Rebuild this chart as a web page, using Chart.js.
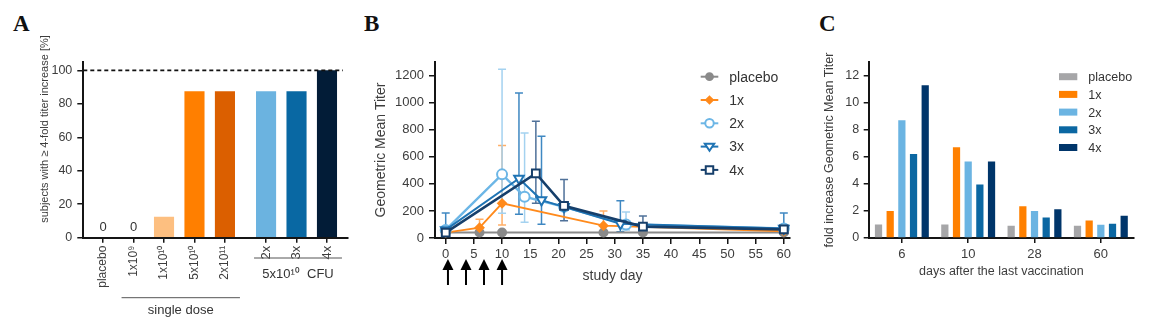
<!DOCTYPE html>
<html>
<head>
<meta charset="utf-8">
<script src="https://cdn.jsdelivr.net/npm/chart.js@4.4.1/dist/chart.umd.min.js"></script>
<style>
    body { margin: 0; background: #fff; width: 1149px; height: 325px; position: relative; overflow: hidden; }
    .panel { position: absolute; top: 0; height: 325px; }
    .letter { position: absolute; top: 12px; font: bold 23px/23px 'Liberation Serif', 'Times New Roman', serif; color: #111; }
</style>
</head>
<body>
<div class="letter" style="left:13px">A</div>
<div class="letter" style="left:364px">B</div>
<div class="letter" style="left:819px">C</div>
<div class="panel" style="left:0;width:360px"><canvas id="chart-a"></canvas></div>
<div class="panel" style="left:360px;width:440px"><canvas id="chart-b"></canvas></div>
<div class="panel" style="left:800px;width:349px"><canvas id="chart-c"></canvas></div>
<script>
// ---- panel A: share of subjects with >= 4-fold titer increase
const aLabels = ["placebo", "1x10⁹", "1x10¹⁰", "5x10¹⁰", "2x10¹¹", "2x", "3x", "4x"];
const aValues = [0, 0, 12.5, 87.5, 87.5, 87.5, 87.5, 100];
const aColors = ["#bbbbbb", "#bbbbbb", "#fdbf80", "#ff7f00", "#db5f00", "#6bb3e0", "#0968a3", "#021c37"];
const aTicksY = [0, 20, 40, 60, 80, 100];
const aReference = 100;
const aTitle = "subjects with ≥ 4-fold titer increase [%]";
const aGroupLabels = ["single dose", "5x10¹⁰  CFU"];
const aGroupFrom = [1, 5];
const aGroupTo = [4, 7];

// ---- panel B: geometric mean titer over study days
const bSeries = ["placebo", "1x", "2x", "3x", "4x"];
const bTicksX = [0, 5, 10, 15, 20, 25, 30, 35, 40, 45, 50, 55, 60];
const bTicksY = [0, 200, 400, 600, 800, 1000, 1200];
const vaccinationDays = [0.4, 3.6, 6.8, 10];

const placeboDays = [0, 6, 10, 28, 35, 60];
const placeboGmt = [40, 40, 40, 40, 40, 40];
const placeboHigh = [null, null, null, null, null, null];
const placeboLow = [null, null, null, null, null, null];

const oneDays = [0, 6, 10, 28, 60];
const oneGmt = [40, 76, 256, 91, 50];
const oneHigh = [null, 138, 684, 200, null];
const oneLow = [null, null, 96, null, null];

const twoDays = [0, 10, 14, 21, 32, 60];
const twoGmt = [60, 470, 305, 230, 100, 70];
const twoHigh = [null, 1246, 776, null, 192, null];
const twoLow = [null, 182, 116, null, 60, null];

const threeDays = [0, 13, 17, 21, 31, 60];
const threeGmt = [60, 440, 280, 230, 105, 70];
const threeHigh = [184, 1071, 752, null, 275, 185];
const threeLow = [null, 175, 101, null, 46, null];

const fourDays = [0, 16, 21, 35, 60];
const fourGmt = [40, 477, 238, 84, 64];
const fourHigh = [null, 863, 433, 162, null];
const fourLow = [null, 256, 128, null, null];

// ---- panel C: fold increase of GMT by days after the last vaccination
const cDays = ["6", "10", "28", "60"];
const cPlacebo = [1.0, 1.0, 0.9, 0.9];
const cOne = [2.0, 6.7, 2.35, 1.3];
const cTwo = [8.7, 5.65, 2.0, 0.97];
const cThree = [6.2, 3.95, 1.52, 1.05];
const cFour = [11.28, 5.65, 2.12, 1.65];
const cTicksY = [0, 2, 4, 6, 8, 10, 12];

Chart.defaults.font.family = "'Liberation Sans', Arial, sans-serif";
Chart.defaults.color = "#3d3d3d";
Chart.defaults.animation = false;
Chart.defaults.plugins.legend.display = false;
Chart.defaults.plugins.tooltip.enabled = false;

const AXIS = "#151515";

function axisBorder() {
    return { display: true, color: AXIS, width: 2 };
}
function tickGrid(len) {
    return { display: true, drawOnChartArea: false, drawTicks: true, tickLength: len, color: AXIS, lineWidth: 1.5, offset: false };
}

// ================= A =================
const aX = aLabels.map((label, i) => i < 5 ? i : i + 0.35);

const panelAExtras = {
    id: "panelAExtras",
    afterDatasetsDraw(chart) {
        const { ctx, chartArea, scales: { x, y } } = chart;
        ctx.save();
        // reference line
        ctx.strokeStyle = "#111";
        ctx.lineWidth = 1.6;
        ctx.setLineDash([4, 3]);
        const ry = y.getPixelForValue(aReference);
        ctx.beginPath();
        ctx.moveTo(chartArea.left, ry);
        ctx.lineTo(chartArea.right - 5, ry);
        ctx.stroke();
        ctx.setLineDash([]);

        // zero labels
        ctx.fillStyle = "#333";
        ctx.font = "13px 'Liberation Sans', Arial, sans-serif";
        ctx.textAlign = "center";
        ctx.textBaseline = "middle";
        aValues.forEach((v, i) => {
            if (v === 0) ctx.fillText("0", x.getPixelForValue(aX[i]), y.getPixelForValue(0) - 10);
        });

        // group brackets
        const lineY = [297.7, 258];
        const textY = [310, 274];
        ctx.strokeStyle = "#555";
        ctx.lineWidth = 1;
        aGroupLabels.forEach((label, g) => {
            const x1 = x.getPixelForValue(aX[aGroupFrom[g]]) - 12;
            const x2 = x.getPixelForValue(aX[aGroupTo[g]]) + 15;
            ctx.beginPath();
            ctx.moveTo(x1, lineY[g]);
            ctx.lineTo(x2, lineY[g]);
            ctx.stroke();
            ctx.fillText(label, (x1 + x2) / 2, textY[g]);
        });

        // y title, sits higher than the axis middle
        ctx.translate(45, 129);
        ctx.rotate(-Math.PI / 2);
        ctx.font = "11px 'Liberation Sans', Arial, sans-serif";
        ctx.fillStyle = "#3d3d3d";
        ctx.fillText(aTitle, 0, 0);
        ctx.restore();
    }
};

new Chart(document.getElementById("chart-a"), {
    type: "bar",
    data: {
        datasets: [{
            data: aX.map((x, i) => ({ x: x, y: aValues[i] })),
            backgroundColor: aColors,
            borderWidth: 0,
            categoryPercentage: 1,
            barPercentage: 0.66
        }]
    },
    options: {
        responsive: true,
        maintainAspectRatio: false,
        layout: { padding: { left: 38, right: 12, top: 62, bottom: 0 } },
        scales: {
            x: {
                type: "linear",
                min: -0.65,
                max: 8.04,
                offset: false,
                border: axisBorder(),
                grid: tickGrid(5),
                afterBuildTicks: s => { s.ticks = aX.map(v => ({ value: v })); },
                afterFit: s => { s.height = 87.3; },
                ticks: {
                    autoSkip: false,
                    minRotation: 90,
                    maxRotation: 90,
                    padding: 3,
                    font: c => ({ size: c.index >= 5 ? 13 : 12 }),
                    callback: (v, i) => aLabels[i]
                }
            },
            y: {
                min: 0,
                max: 105,
                border: axisBorder(),
                grid: tickGrid(6),
                afterBuildTicks: s => { s.ticks = aTicksY.map(v => ({ value: v })); },
                afterFit: s => { s.width = 45.3; },
                ticks: { padding: 5, font: { size: 12.5 }, callback: v => String(v) }
            }
        }
    },
    plugins: [panelAExtras]
});

// ================= B =================
const bColors = ["#8a8a8a", "#ff8a1c", "#6cb6e6", "#1f74b4", "#163f6b"];
const bErrColors = ["#b0b0b0", "#ffae66", "#a4d2f0", "#3f88c2", "#4f7199"];
const bStyles = ["circle", "rectRot", "circle", "triangle", "rect"];
const bRadius = [4, 4, 5, 5.5, 5.5];
const bFill = ["#8a8a8a", "#ff8a1c", "#fff", "#fff", "#fff"];
const bLineWidth = [2, 1.8, 2.4, 2, 2.6];
const bDays = [placeboDays, oneDays, twoDays, threeDays, fourDays];
const bGmt = [placeboGmt, oneGmt, twoGmt, threeGmt, fourGmt];
const bHigh = [placeboHigh, oneHigh, twoHigh, threeHigh, fourHigh];
const bLow = [placeboLow, oneLow, twoLow, threeLow, fourLow];

function drawMarker(ctx, style, r, cx, cy) {
    ctx.beginPath();
    if (style === "circle") {
        ctx.arc(cx, cy, r, 0, Math.PI * 2);
    } else if (style === "rectRot") {
        ctx.moveTo(cx, cy - r); ctx.lineTo(cx + r, cy); ctx.lineTo(cx, cy + r); ctx.lineTo(cx - r, cy); ctx.closePath();
    } else if (style === "triangle") {
        ctx.moveTo(cx - r, cy - r * 0.6); ctx.lineTo(cx + r, cy - r * 0.6); ctx.lineTo(cx, cy + r * 0.9); ctx.closePath();
    } else {
        ctx.rect(cx - r * 0.8, cy - r * 0.8, r * 1.6, r * 1.6);
    }
    ctx.fill();
    ctx.stroke();
}

const panelBExtras = {
    id: "panelBExtras",
    beforeDatasetsDraw(chart) {
        const { ctx, scales: { x, y } } = chart;
        ctx.save();
        ctx.lineWidth = 1.5;
        bSeries.forEach((name, s) => {
            ctx.strokeStyle = bErrColors[s];
            bDays[s].forEach((d, i) => {
                const px = x.getPixelForValue(d);
                const py = y.getPixelForValue(bGmt[s][i]);
                [bHigh[s][i], bLow[s][i]].forEach(v => {
                    if (v === null) return;
                    const ey = y.getPixelForValue(v);
                    ctx.beginPath();
                    ctx.moveTo(px, py);
                    ctx.lineTo(px, ey);
                    ctx.moveTo(px - 4, ey);
                    ctx.lineTo(px + 4, ey);
                    ctx.stroke();
                });
            });
        });
        ctx.restore();
    },
    afterDraw(chart) {
        const { ctx, scales: { x } } = chart;
        ctx.save();
        // vaccination arrows
        ctx.fillStyle = "#000";
        ctx.strokeStyle = "#000";
        ctx.lineWidth = 2;
        vaccinationDays.forEach(d => {
            const px = x.getPixelForValue(d);
            ctx.beginPath();
            ctx.moveTo(px, 267);
            ctx.lineTo(px, 285);
            ctx.stroke();
            ctx.beginPath();
            ctx.moveTo(px, 259);
            ctx.lineTo(px - 5.5, 270);
            ctx.lineTo(px + 5.5, 270);
            ctx.closePath();
            ctx.fill();
        });
        // legend
        ctx.font = "14px 'Liberation Sans', Arial, sans-serif";
        ctx.textAlign = "left";
        ctx.textBaseline = "middle";
        bSeries.forEach((name, s) => {
            const ly = 76.7 + s * 23.3;
            ctx.strokeStyle = bColors[s];
            ctx.lineWidth = 2;
            ctx.beginPath();
            ctx.moveTo(340.7, ly);
            ctx.lineTo(358.3, ly);
            ctx.stroke();
            ctx.fillStyle = bFill[s];
            drawMarker(ctx, bStyles[s], bRadius[s] * 0.85, 349.5, ly);
            ctx.fillStyle = "#333";
            ctx.fillText(name, 369.3, ly + 1);
        });
        ctx.restore();
    }
};

new Chart(document.getElementById("chart-b"), {
    type: "line",
    data: {
        datasets: bSeries.map((name, s) => ({
            label: name,
            data: bDays[s].map((d, i) => ({ x: d, y: bGmt[s][i] })),
            borderColor: bColors[s],
            borderWidth: bLineWidth[s],
            pointStyle: bStyles[s],
            pointRadius: bRadius[s],
            pointRotation: bStyles[s] === "triangle" ? 180 : 0,
            pointBackgroundColor: bFill[s],
            pointBorderColor: bColors[s],
            pointBorderWidth: 2,
            tension: 0,
            fill: false,
            order: 5 - s
        }))
    },
    options: {
        responsive: true,
        maintainAspectRatio: false,
        layout: { padding: { left: 13, right: 10, top: 62, bottom: 40 } },
        scales: {
            x: {
                type: "linear",
                min: -1.9,
                max: 61.1,
                border: axisBorder(),
                grid: tickGrid(6),
                afterBuildTicks: s => { s.ticks = bTicksX.map(v => ({ value: v })); },
                afterFit: s => { s.height = 47; },
                ticks: { padding: 3, maxRotation: 0, font: { size: 13 }, callback: v => String(v) },
                title: { display: true, text: "study day", font: { size: 14 }, padding: { top: 0, bottom: 0 } }
            },
            y: {
                min: 0,
                max: 1300,
                border: axisBorder(),
                grid: tickGrid(6),
                afterBuildTicks: s => { s.ticks = bTicksY.map(v => ({ value: v })); },
                afterFit: s => { s.width = 62; },
                ticks: { padding: 5, font: { size: 13 }, callback: v => String(v) },
                title: { display: true, text: "Geometric Mean Titer", font: { size: 14 }, padding: { top: 0, bottom: 0 } }
            }
        }
    },
    plugins: [panelBExtras]
});

// ================= C =================
const cColors = ["#a6a6a8", "#ff8000", "#6bb4e2", "#0b67a2", "#00356a"];
const cValues = [cPlacebo, cOne, cTwo, cThree, cFour];

const panelCLegend = {
    id: "panelCLegend",
    afterDraw(chart) {
        const { ctx } = chart;
        ctx.save();
        ctx.font = "12.5px 'Liberation Sans', Arial, sans-serif";
        ctx.textAlign = "left";
        ctx.textBaseline = "middle";
        bSeries.forEach((name, s) => {
            const ly = 76.7 + s * 17.7;
            ctx.fillStyle = cColors[s];
            ctx.fillRect(259, ly - 3.5, 18.3, 7);
            ctx.fillStyle = "#333";
            ctx.fillText(name, 288.3, ly + 1);
        });
        ctx.restore();
    }
};

new Chart(document.getElementById("chart-c"), {
    type: "bar",
    data: {
        labels: cDays,
        datasets: bSeries.map((name, s) => ({
            label: name,
            data: cValues[s],
            backgroundColor: cColors[s],
            borderWidth: 0,
            categoryPercentage: 0.88,
            barPercentage: 0.62
        }))
    },
    options: {
        responsive: true,
        maintainAspectRatio: false,
        layout: { padding: { left: 22, right: 15, top: 62, bottom: 45.8 } },
        scales: {
            x: {
                border: axisBorder(),
                grid: tickGrid(5),
                afterFit: s => { s.height = 41.2; },
                ticks: { padding: 4, font: { size: 13 } },
                title: { display: true, text: "days after the last vaccination", font: { size: 12.5 }, padding: { top: 0, bottom: 0 } }
            },
            y: {
                min: 0,
                max: 13,
                border: axisBorder(),
                grid: tickGrid(5),
                afterBuildTicks: s => { s.ticks = cTicksY.map(v => ({ value: v })); },
                afterFit: s => { s.width = 46.7; },
                ticks: { padding: 4.5, font: { size: 12.5 }, callback: v => String(v) },
                title: { display: true, text: "fold increase Geometric Mean Titer", font: { size: 12.5 }, padding: { top: 0, bottom: 0 } }
            }
        }
    },
    plugins: [panelCLegend]
});
</script>
</body>
</html>
